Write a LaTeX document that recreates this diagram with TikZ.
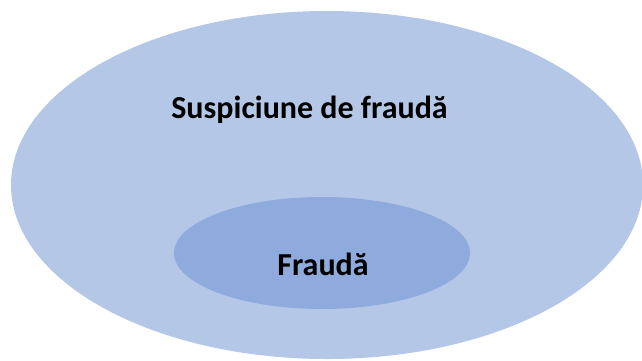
\documentclass[tikz,border=0pt]{standalone}
\usepackage{fontspec}
\setmainfont{Carlito}
\definecolor{outerblue}{HTML}{B4C7E7}
\definecolor{innerblue}{HTML}{8FAADC}
\begin{document}
\begin{tikzpicture}[x=1pt,y=-1pt,
  lbl/.style={font=\fontsize{32}{36}\selectfont\bfseries, text=black, inner sep=0pt}]
\useasboundingbox (0,0) rectangle (642,360);
\fill[outerblue] (327,185) ellipse [x radius=316, y radius=174];
\fill[innerblue] (322,253) ellipse [x radius=148, y radius=56];
\node[lbl, anchor=base] (outer) at (309.5,118) {Suspiciune de fraudă};
\node[lbl, anchor=base] (inner) at (323,275) {Fraudă};
\end{tikzpicture}
\end{document}
